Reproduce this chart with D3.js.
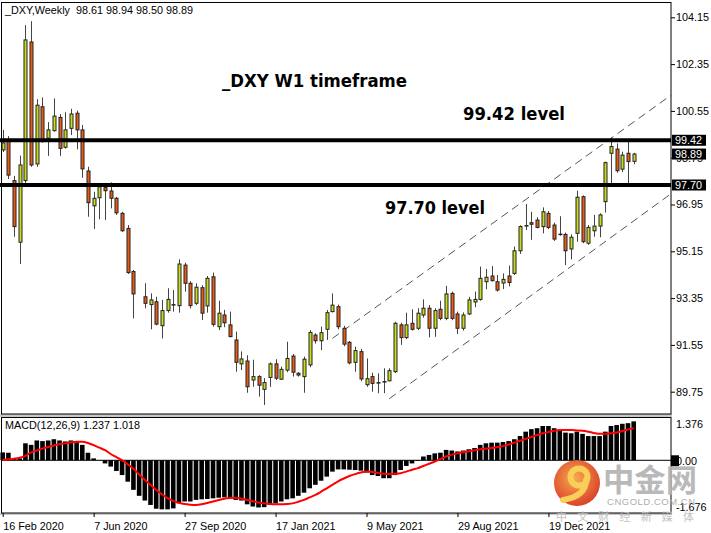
<!DOCTYPE html>
<html><head><meta charset="utf-8">
<script src="https://cdn.jsdelivr.net/npm/d3@7"></script>
<style>
body{margin:0;background:#fff}
svg{display:block}
.ax text,.lbl{font-family:"Liberation Sans",Arial,sans-serif;font-size:10.8px;fill:#000;white-space:pre}
.note{font-family:"DejaVu Sans",sans-serif;font-weight:bold;font-size:16.8px;fill:#000}
</style>
</head><body>
<svg id="c" width="711" height="533"></svg>
<script>
// ---- data (weekly _DXY, bar 0 = 16 Feb 2020; bar 24 has no candle drawn) ----
const opens  = [99.05,99.43,97.87,95.50,97.87,103.20,98.51,100.71,99.50,99.79,100.30,99.15,99.88,100.46,99.82,98.24,96.90,97.21,97.60,97.47,97.19,96.61,96.03,94.37,null,93.40,93.10,93.21,92.29,92.87,93.10,93.06,94.62,93.92,93.15,93.75,93.05,94.17,92.25,92.70,92.32,91.74,90.82,90.93,90.20,90.33,89.84,90.30,90.82,90.23,90.58,91.12,90.46,90.33,90.78,91.93,91.71,92.15,92.83,93.02,92.19,91.65,90.88,91.29,90.02,90.33,90.08,90.14,90.17,90.52,92.32,91.83,92.38,92.19,92.70,92.96,92.19,92.92,92.57,93.53,92.74,92.19,92.74,93.20,93.30,93.98,94.20,93.98,93.93,94.20,94.30,95.17,96.13,96.25,96.35,96.10,96.61,96.16,95.81,95.80,95.24,95.84,97.25,95.46,95.94,96.12,97.06,98.92,99.08,98.31,98.92,98.61];
const highs  = [99.82,99.58,98.05,98.83,103.85,104.00,101.00,101.07,100.12,101.03,100.43,100.50,100.63,100.56,100.01,98.40,97.44,97.76,97.70,97.80,97.24,96.67,96.16,94.43,null,93.92,93.53,93.40,93.28,93.73,93.66,94.84,94.71,94.00,93.92,93.85,94.20,94.33,93.25,92.90,92.83,92.06,91.30,91.15,90.98,90.39,90.27,90.88,91.00,90.71,91.67,91.20,90.50,91.10,92.12,92.00,92.25,92.89,93.53,93.10,92.28,91.70,91.48,91.40,91.03,90.48,90.46,90.65,90.65,92.44,92.40,92.79,92.92,92.96,93.30,93.08,92.96,93.25,93.82,93.60,92.83,92.80,93.40,93.60,94.56,94.47,94.58,94.24,94.30,94.60,95.33,96.15,96.97,96.67,96.46,96.84,96.70,96.25,96.50,95.87,95.80,97.48,97.30,96.16,96.55,96.61,98.60,99.53,99.30,98.98,99.37,98.94];
const lows   = [98.97,97.93,95.71,94.66,97.63,98.40,98.40,99.33,98.82,99.75,98.82,99.10,99.62,99.07,97.98,96.48,96.01,96.38,96.35,96.80,96.55,95.90,94.28,92.57,null,92.96,92.15,92.30,91.80,92.79,92.83,92.79,93.60,92.95,93.08,92.51,92.79,92.25,92.12,92.23,91.84,90.52,90.58,89.71,89.94,89.56,89.24,89.94,90.20,90.20,90.50,90.33,90.33,89.71,90.69,91.60,91.35,91.74,92.80,92.15,91.50,90.80,90.52,90.15,89.94,89.75,89.69,89.69,90.15,90.47,91.55,91.77,92.10,92.12,92.60,91.84,91.86,92.50,92.50,92.50,91.97,92.10,92.70,93.00,93.25,93.69,93.99,93.60,93.70,93.80,94.24,95.05,95.97,95.59,96.03,95.84,96.00,95.55,95.75,94.62,94.84,95.52,95.46,95.40,95.71,95.69,96.64,97.76,98.17,98.20,97.76,98.50];
const closes = [99.32,98.08,96.10,98.47,103.28,98.47,100.77,99.37,99.82,100.35,99.11,99.82,100.43,99.82,98.32,97.02,97.19,97.63,97.48,97.19,96.63,95.94,94.33,93.51,null,93.15,93.28,92.35,92.87,93.30,93.10,94.66,93.92,93.06,93.77,92.77,94.11,92.34,92.77,92.40,91.87,90.88,91.01,89.94,90.33,90.00,90.10,90.82,90.27,90.61,91.03,90.50,90.39,91.00,92.03,91.71,92.02,92.79,93.08,92.25,91.58,90.86,91.33,90.24,90.25,90.07,90.10,90.13,90.56,92.38,91.83,92.32,92.15,92.77,92.96,92.19,92.87,92.57,93.51,92.57,92.19,92.70,93.28,93.30,94.11,94.15,94.02,93.66,94.07,93.95,95.17,96.10,96.14,96.19,96.07,96.67,96.07,95.62,95.80,95.17,95.69,97.23,95.52,96.07,96.12,96.55,98.56,99.18,98.25,98.85,98.60,98.89];
const macdHist = [0.25,0.24,0.04,0.06,0.54,0.49,0.63,0.61,0.63,0.67,0.63,0.60,0.63,0.60,0.49,0.24,0.06,-0.01,-0.10,-0.20,-0.34,-0.47,-0.68,-0.94,-1.13,-1.28,-1.42,-1.54,-1.56,-1.56,-1.53,-1.37,-1.31,-1.31,-1.26,-1.24,-1.23,-1.21,-1.19,-1.18,-1.20,-1.26,-1.28,-1.40,-1.47,-1.50,-1.49,-1.42,-1.37,-1.31,-1.24,-1.21,-1.13,-1.03,-0.89,-0.78,-0.65,-0.52,-0.36,-0.29,-0.29,-0.30,-0.31,-0.33,-0.39,-0.47,-0.50,-0.57,-0.57,-0.47,-0.31,-0.18,-0.10,-0.02,0.12,0.17,0.22,0.24,0.33,0.31,0.28,0.31,0.35,0.39,0.49,0.54,0.56,0.56,0.58,0.61,0.67,0.77,0.91,0.99,1.02,1.09,1.09,1.02,0.96,0.88,0.86,0.91,0.84,0.77,0.77,0.77,0.91,1.09,1.12,1.16,1.18,1.237];
const macdSignal = [0.01,0.03,0.05,0.08,0.14,0.25,0.31,0.37,0.42,0.47,0.51,0.54,0.57,0.59,0.59,0.55,0.48,0.40,0.32,0.20,0.10,0.00,-0.13,-0.27,-0.45,-0.62,-0.78,-0.94,-1.08,-1.20,-1.29,-1.35,-1.39,-1.41,-1.42,-1.40,-1.36,-1.31,-1.26,-1.22,-1.20,-1.19,-1.22,-1.26,-1.30,-1.34,-1.37,-1.39,-1.40,-1.40,-1.39,-1.37,-1.32,-1.26,-1.18,-1.10,-1.00,-0.89,-0.78,-0.67,-0.58,-0.50,-0.44,-0.39,-0.36,-0.37,-0.40,-0.43,-0.44,-0.43,-0.41,-0.36,-0.30,-0.25,-0.18,-0.11,-0.04,0.04,0.12,0.18,0.22,0.26,0.29,0.32,0.35,0.37,0.39,0.42,0.45,0.50,0.56,0.62,0.68,0.74,0.80,0.86,0.90,0.94,0.96,0.96,0.96,0.95,0.94,0.91,0.87,0.84,0.84,0.86,0.88,0.93,0.98,1.018];
const priceTicks = [104.15,102.35,100.55,98.75,96.95,95.15,93.35,91.55,89.75];
const macdTicks = [1.376,0,-1.676];
const macdTickLabels = ["1.376","0.00","-1.676"];
const dateLabels = ["16 Feb 2020","7 Jun 2020","27 Sep 2020","17 Jan 2021","9 May 2021","29 Aug 2021","19 Dec 2021"];
const dateBars = [0,16,32,48,64,80,96];
const levelPrices = [99.42,97.70];
const levelTexts = ["99.42 level","97.70 level"];
const lastPrice = 98.89;
const channelUpper = [[58,91.80],[117.6,101.16]];
const channelLower = [[68,89.48],[117.3,97.32]];

// ---- layout ----
const svg = d3.select("#c");
const R = 671;                     // right edge of plot panels
const x = d3.scaleLinear().domain([0,111]).range([2.7,633.7]);
const y = d3.scaleLinear().domain([89.75,104.15]).range([391.7,17.3]);
const ym = d3.scaleLinear().domain([-1.676,1.376]).range([513,417]);
const px = v => Math.round(x(v)) + 0.5;

// panels
svg.append("rect").attr("x",0).attr("y",0).attr("width",711).attr("height",533).attr("fill","#fff");
svg.append("rect").attr("x",0).attr("y",414).attr("width",R+1).attr("height",3).attr("fill","#c8c8c8");
svg.append("rect").attr("x",0).attr("y",513).attr("width",R+1).attr("height",2).attr("fill","#c8c8c8");
svg.append("rect").attr("x",1.5).attr("y",2.5).attr("width",R-1.5).attr("height",411.5).attr("fill","none").attr("stroke","#000");
svg.append("rect").attr("x",1.5).attr("y",417.5).attr("width",R-1.5).attr("height",95.5).attr("fill","none").attr("stroke","#000");

// price axis
const pa = svg.append("g").attr("class","ax").attr("transform",`translate(${R},0)`)
  .call(d3.axisRight(y).tickValues(priceTicks).tickSize(4).tickPadding(1).tickFormat(d3.format(".2f")));
pa.select(".domain").remove();
pa.selectAll("line").attr("stroke","#000");

// date axis
const da = svg.append("g").attr("class","ax").attr("transform","translate(0,513)")
  .call(d3.axisBottom(x).tickValues(dateBars).tickSize(4).tickPadding(3).tickFormat((d,i)=>dateLabels[i]));
da.select(".domain").remove();
da.selectAll("line").attr("stroke","#000");
da.selectAll("text").attr("text-anchor","start").attr("dy","0.9em");

// macd axis
const ma = svg.append("g").attr("class","ax").attr("transform",`translate(${R},0)`)
  .call(d3.axisRight(ym).tickValues(macdTicks).tickSize(0).tickPadding(5).tickFormat((d,i)=>macdTickLabels[i]));
ma.select(".domain").remove();
ma.selectAll("text").attr("dy",(d,i)=> i===0 ? "1.0em" : i===2 ? "-0.2em" : "0.35em");
svg.append("rect").attr("x",R).attr("y",ym(0)-5).attr("width",8).attr("height",11).attr("fill","#000");

// channel (dashed)
const line = d3.line().x(d=>x(d[0])).y(d=>y(d[1]));
[channelUpper,channelLower].forEach(c=>{
  svg.append("path").attr("d",line(c)).attr("fill","none").attr("stroke","#555").attr("stroke-width",1).attr("stroke-dasharray","8,5");
});

// candles
const bars = d3.range(opens.length).filter(i=>opens[i]!==null);
const cg = svg.append("g");
cg.selectAll("line.w").data(bars).join("line").attr("class","w")
  .attr("x1",i=>px(i)).attr("x2",i=>px(i)).attr("y1",i=>y(highs[i])).attr("y2",i=>y(lows[i]))
  .attr("stroke","#444").attr("stroke-width",1);
cg.selectAll("rect.b").data(bars).join("rect").attr("class","b")
  .attr("x",i=>px(i)-1.5).attr("width",3)
  .attr("y",i=>y(Math.max(opens[i],closes[i])))
  .attr("height",i=>Math.max(0.5, y(Math.min(opens[i],closes[i]))-y(Math.max(opens[i],closes[i]))))
  .attr("fill",i=>closes[i]>=opens[i]?"#cadc1c":"#ea5a14")
  .attr("stroke","#222").attr("stroke-width",1);

// horizontal levels
levelPrices.forEach(p=>{
  svg.append("line").attr("x1",0).attr("x2",R).attr("y1",y(p)).attr("y2",y(p)).attr("stroke","#000").attr("stroke-width",4);
});

// price labels (black boxes)
[levelPrices[0],lastPrice,levelPrices[1]].forEach(p=>{
  svg.append("rect").attr("x",R+1).attr("y",y(p)-5.5).attr("width",34).attr("height",11).attr("fill","#000");
  svg.append("text").attr("class","lbl").attr("x",R+4).attr("y",y(p)).attr("dy","0.36em").style("fill","#fff").text(d3.format(".2f")(p));
});

// macd histogram + signal
svg.append("line").attr("x1",2).attr("x2",R).attr("y1",ym(0)).attr("y2",ym(0)).attr("stroke","#000");
svg.append("g").selectAll("rect").data(macdHist).join("rect")
  .attr("x",(d,i)=>x(i)-2.3).attr("width",4.6)
  .attr("y",d=>Math.min(ym(d),ym(0))).attr("height",d=>Math.abs(ym(d)-ym(0)))
  .attr("fill","#000");
svg.append("path").attr("d",d3.line().x((d,i)=>x(i)).y(d=>ym(d)).curve(d3.curveMonotoneX)(macdSignal))
  .attr("fill","none").attr("stroke","#ff0000").attr("stroke-width",2);

// headers
svg.append("text").attr("class","lbl").attr("x",5).attr("y",14).text("_DXY,Weekly  98.61 98.94 98.50 98.89");
svg.append("text").attr("class","lbl").attr("x",5).attr("y",429).text("MACD(12,26,9) 1.237 1.018");

// annotations
svg.append("text").attr("class","note").attr("x",222).attr("y",87).attr("textLength",185).attr("lengthAdjust","spacingAndGlyphs").text("_DXY W1 timeframe");
svg.append("text").attr("class","note").attr("x",463).attr("y",119.5).attr("textLength",102).attr("lengthAdjust","spacingAndGlyphs").text(levelTexts[0]);
svg.append("text").attr("class","note").attr("x",385).attr("y",214).attr("textLength",100).attr("lengthAdjust","spacingAndGlyphs").text(levelTexts[1]);

// watermark
const defs = svg.append("defs");
const gr = defs.append("radialGradient").attr("id","lg").attr("cx","45%").attr("cy","40%").attr("r","60%");
gr.append("stop").attr("offset","0%").attr("stop-color","#f7a640");
gr.append("stop").attr("offset","100%").attr("stop-color","#d9321a");
const wm = svg.append("g").attr("opacity",0.92);
wm.append("circle").attr("cx",577).attr("cy",483).attr("r",23).attr("fill","url(#lg)");
wm.append("circle").attr("cx",579).attr("cy",477).attr("r",8.5).attr("fill","none").attr("stroke","#f8cc4a").attr("stroke-width",6);
wm.append("path").attr("d","M586,480 Q586,496 563,500").attr("fill","none").attr("stroke","#f8cc4a").attr("stroke-width",6).attr("stroke-linecap","round");
wm.append("text").attr("x",603).attr("y",491).attr("textLength",94).attr("lengthAdjust","spacingAndGlyphs")
  .style("font-family","'Noto Sans CJK SC',sans-serif").style("font-weight","bold").style("font-size","31px").style("fill","#b4b4b4").text("中金网");
wm.append("text").attr("x",607).attr("y",504.5).attr("textLength",88).attr("lengthAdjust","spacing")
  .style("font-family","'Liberation Sans',Arial,sans-serif").style("font-size","9.5px").style("fill","#a8a8a8").text("CNGOLD.COM.CN");
wm.append("text").attr("x",556).attr("y",521).attr("textLength",138).attr("lengthAdjust","spacing")
  .style("font-family","'Noto Sans CJK SC',sans-serif").style("font-size","11px").style("fill","#bdbdbd").text("中文财经新媒体");
</script>
</body></html>
